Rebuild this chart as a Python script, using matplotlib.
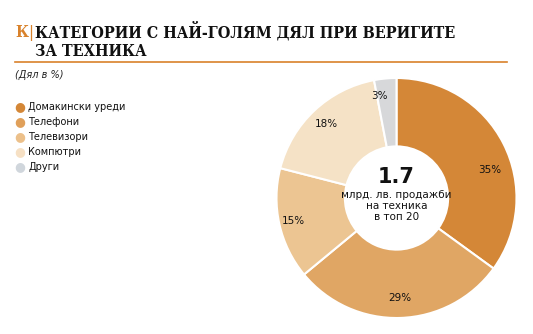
import matplotlib
matplotlib.use('Agg')
import matplotlib.pyplot as plt
from matplotlib.lines import Line2D
import numpy as np

categories = ['Домакински уреди', 'Телефони', 'Телевизори', 'Компютри', 'Други']
shares = [35, 29, 15, 18, 3]
colors = ['#d48737', '#e0a664', '#ecc592', '#f5e2c6', '#d7d8da']
legend_colors = ['#d48737', '#e0a05a', '#ecc08a', '#f6e0c4', '#d0d6dc']

total_value = '1.7'
center_note = 'млрд. лв. продажби\nна техника\nв топ 20'

plt.rcParams['font.family'] = ['DejaVu Sans']

W, H = 533, 334
fig = plt.figure(figsize=(W / 100, H / 100), dpi=100)
fig.patch.set_facecolor('white')

title_font = dict(fontsize=11.5, fontweight='bold', family='DejaVu Serif',
                  fontstretch='condensed', va='baseline')

# title block
fig.text(15 / W, 1 - 37 / H, 'К', color='#d9822b', **title_font)
fig.text(28 / W, 1 - 37 / H, '|', color='#d9822b', fontsize=11,
         family='DejaVu Sans', va='baseline')
fig.text(35 / W, 1 - 37 / H, 'КАТЕГОРИИ С НАЙ-ГОЛЯМ ДЯЛ ПРИ ВЕРИГИТЕ',
         color='#111111', **title_font)
fig.text(35 / W, 1 - 56 / H, 'ЗА ТЕХНИКА', color='#111111', **title_font)
fig.add_artist(Line2D([15 / W, 507 / W], [1 - 62 / H, 1 - 62 / H],
                      color='#d9822b', lw=1.2))
fig.text(15 / W, 1 - 78 / H, '(Дял в %)', fontsize=7, style='italic',
         va='baseline', color='#222222')

# legend
for i, (lab, col) in enumerate(zip(categories, legend_colors)):
    y = 1 - (107 + i * 15) / H
    fig.text(19.5 / W, y, '●', color=col, fontsize=9, ha='center', va='center')
    fig.text(28 / W, y, lab, fontsize=7, va='center', color='#111111')

# donut
cx, cy, r = 396.5, 198, 120
ax = fig.add_axes([(cx - r) / W, 1 - (cy + r) / H, 2 * r / W, 2 * r / H])
ax.pie(shares, colors=colors, startangle=90, counterclock=False, radius=1.0,
       wedgeprops=dict(width=1 - 0.43, edgecolor='white', linewidth=1.5))
ax.set_xlim(-1, 1)
ax.set_ylim(-1, 1)
ax.set_aspect('equal')
ax.axis('off')

# label placement: radius and angular nudge per slice
lab_r = [0.81, 0.83, 0.88, 0.85, 0.86]
lab_shift = [-10, 0, 0, 0, 4]
ang = 90
for v, lr, sh in zip(shares, lab_r, lab_shift):
    mid = np.deg2rad(ang - v * 3.6 / 2 + sh)
    ax.text(lr * np.cos(mid), lr * np.sin(mid), f'{v}%', ha='center', va='center',
            fontsize=7.5, color='#111111')
    ang -= v * 3.6

ax.text(0, 0.175, total_value, ha='center', va='center', fontsize=15,
        fontweight='bold', color='#111111')
ax.text(0, -0.065, center_note, ha='center', va='center', fontsize=7.5,
        linespacing=1.15, color='#111111')

fig.savefig('out.png', dpi=100, facecolor='white')
